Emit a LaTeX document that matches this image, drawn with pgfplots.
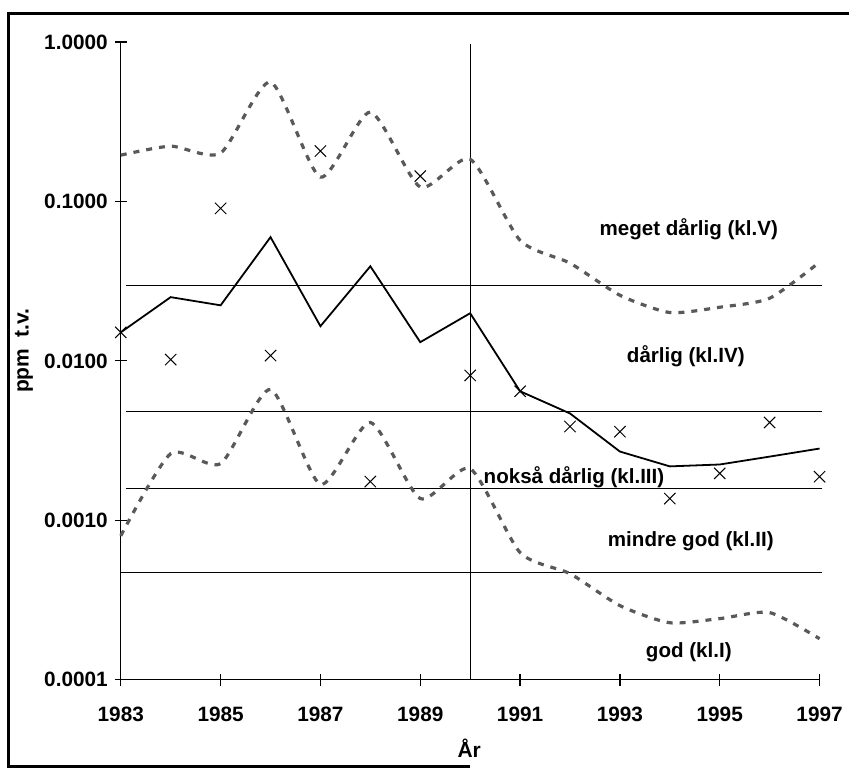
\documentclass[border=0pt]{standalone}
\usepackage{fontspec}
\setmainfont{Liberation Sans}
\usepackage{pgfplots}
\pgfplotsset{compat=1.18}
\begin{document}
\begin{tikzpicture}
\begin{axis}[
  scale only axis,
  width=350pt, height=319.5pt,
  ymode=log,
  xmin=1983, xmax=1997,
  ymin=1e-4, ymax=1,
  axis lines=left,
  axis line style={-, line width=0.6pt},
  clip=false,
  xtick={1983,1985,1987,1989,1991,1993,1995,1997},
  xticklabels={1983,1985,1987,1989,1991,1993,1995,1997},
  ytick={1e-4,1e-3,1e-2,1e-1,1},
  yticklabels={0.0001,0.0010,0.0100,0.1000,1.0000},
  minor tick num=0,
  yminorticks=false,
  tick align=center,
  major tick length=6pt,
  tick style={line width=0.6pt, black},
  ticklabel style={font=\fontsize{10.4}{12.5}\selectfont\bfseries},
  yticklabel style={xshift=0pt},
  xticklabel style={yshift=-7pt},
  xlabel={År},
  ylabel={ppm\ \ t.v.},
  label style={font=\fontsize{10.5}{12}\selectfont\bfseries},
  xlabel style={at={(axis description cs:0.4986,-0.107)}, anchor=center},
  ylabel style={at={(axis description cs:-0.1386,0.516)}, anchor=center},
]
% bounding box of the picture
\path (rel axis cs:-0.17286,-0.14085) rectangle (rel axis cs:1.04143,1.06573);
% frame
\draw[line width=1.5pt] (rel axis cs:0.5,-0.1362) -- (rel axis cs:-0.16,-0.1362) -- (rel axis cs:-0.16,1.0438) -- (rel axis cs:1.04143,1.0438);

% class boundaries
\addplot[black, line width=0.5pt] coordinates {(1983.1,0.0295) (1997.05,0.0295)};
\addplot[black, line width=0.5pt] coordinates {(1983.1,0.0048) (1997.05,0.0048)};
\addplot[black, line width=0.5pt] coordinates {(1983.1,0.00158) (1997.05,0.00158)};
\addplot[black, line width=0.5pt] coordinates {(1983,0.00047) (1997.05,0.00047)};
% vertical line at 1990
\addplot[black, line width=0.6pt] coordinates {(1990,1e-4) (1990,0.97)};

% upper dashed
\addplot[smooth, tension=0.4, black!65, line width=1.6pt, dash pattern=on 3pt off 3.5pt] coordinates {
(1983,0.195) (1984,0.222) (1985,0.201) (1986,0.561) (1987,0.142) (1988,0.363) (1989,0.123) (1990,0.184)
(1991,0.057) (1992,0.041) (1993,0.0258) (1994,0.0201) (1995,0.0217) (1996,0.0247) (1997,0.0416)};
% lower dashed
\addplot[smooth, tension=0.4, black!65, line width=1.6pt, dash pattern=on 3pt off 3.5pt] coordinates {
(1983,0.0008) (1984,0.00262) (1985,0.00227) (1986,0.00662) (1987,0.00168) (1988,0.00411) (1989,0.00137) (1990,0.00211)
(1991,0.000628) (1992,0.000463) (1993,0.000292) (1994,0.000228) (1995,0.000242) (1996,0.000264) (1997,0.000181)};
% solid median line
\addplot[black, line width=0.9pt] coordinates {
(1983,0.0151) (1984,0.0251) (1985,0.0223) (1986,0.0597) (1987,0.0165) (1988,0.0392) (1989,0.0131) (1990,0.0199)
(1991,0.00645) (1992,0.00468) (1993,0.0027) (1994,0.00218) (1995,0.00224) (1996,0.00251) (1997,0.00282)};
% x marks
\addplot[only marks, mark=x, mark size=4pt, black, mark options={line width=0.5pt}] coordinates {
(1983,0.0151) (1984,0.0102) (1985,0.0904) (1986,0.0108) (1987,0.207) (1988,0.00175) (1989,0.144) (1990,0.0081)
(1991,0.00645) (1992,0.00388) (1993,0.0036) (1994,0.00137) (1995,0.00197) (1996,0.00411) (1997,0.00188)};

% class labels
\begin{scope}[every node/.style={font=\fontsize{10.3}{12}\selectfont\bfseries, inner sep=0pt}]
\node at (axis cs:1994.38,0.0665) {meget dårlig (kl.V)};
\node at (axis cs:1994.32,0.01066) {dårlig (kl.IV)};
\node at (axis cs:1992.08,0.00187) {nokså dårlig (kl.III)};
\node at (axis cs:1994.42,0.000741) {mindre god (kl.II)};
\node at (axis cs:1994.38,0.00015) {god (kl.I)};
\end{scope}
\end{axis}
\end{tikzpicture}
\end{document}
